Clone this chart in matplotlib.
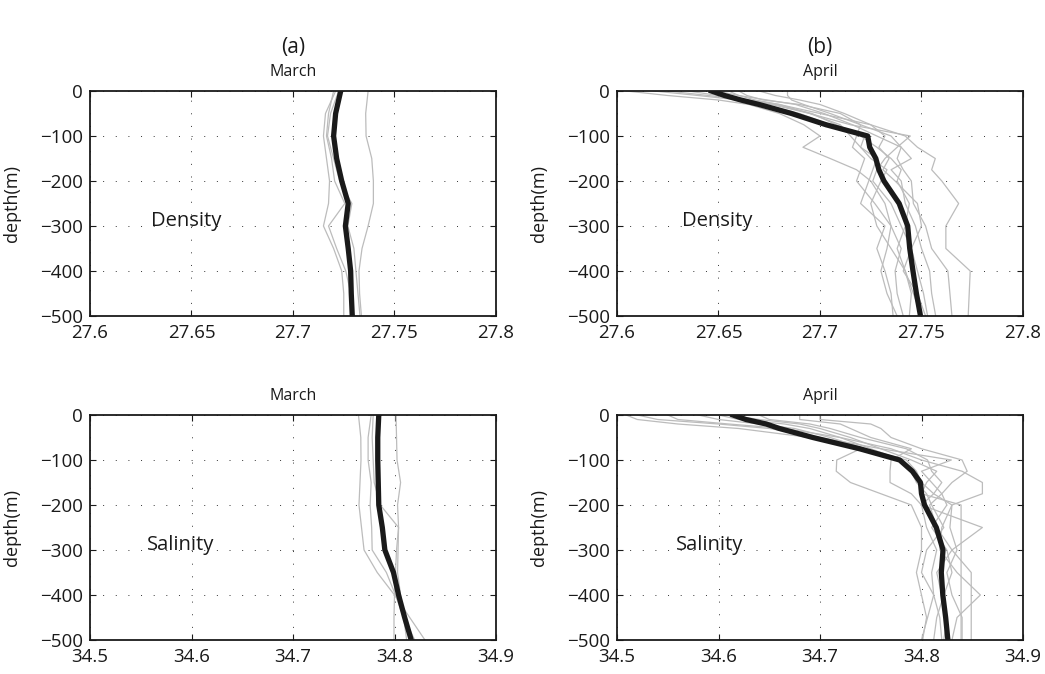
import numpy as np
import matplotlib
matplotlib.use("Agg")
import matplotlib.pyplot as plt

plt.rcParams['font.family'] = ['Open Sans', 'DejaVu Sans']

# depth levels
depth_mar = [0, -50, -100, -150, -200, -250, -300, -350, -400, -450, -500]
depth_apr = [0, -10, -20, -30, -50, -75, -100, -125, -150, -175, -200,
             -250, -300, -350, -400, -450, -500]

# March density (a, top)
dens_mar_mean = [27.7235, 27.7210, 27.7200, 27.7215, 27.7240, 27.7272,
                 27.7258, 27.7272, 27.7284, 27.7287, 27.7292]
dens_mar_casts = [
    [27.7370, 27.7358, 27.7360, 27.7388, 27.7396, 27.7396, 27.7370, 27.7340, 27.7325, 27.7328, 27.7337],
    [27.7210, 27.7160, 27.7150, 27.7165, 27.7180, 27.7175, 27.7150, 27.7200, 27.7240, 27.7250, 27.7250],
    [27.7200, 27.7175, 27.7165, 27.7190, 27.7205, 27.7255, 27.7175, 27.7215, 27.7260, 27.7285, 27.7300],
    [27.7225, 27.7185, 27.7170, 27.7200, 27.7230, 27.7290, 27.7270, 27.7300, 27.7310, 27.7320, 27.7330],
]

# March salinity (a, bottom)
sal_mar_mean = [34.7845, 34.7835, 34.7835, 34.7840, 34.7845, 34.7880,
                34.7905, 34.7990, 34.8040, 34.8100, 34.8165]
sal_mar_casts = [
    [34.7645, 34.7668, 34.7670, 34.7660, 34.7650, 34.7675, 34.7700, 34.7830, 34.8000, 34.8150, 34.8300],
    [34.8015, 34.8020, 34.8025, 34.8060, 34.8030, 34.8040, 34.8020, 34.8010, 34.8000, 34.7995, 34.7995],
    [34.7770, 34.7740, 34.7740, 34.7770, 34.7760, 34.7775, 34.7780, 34.7920, 34.8010, 34.8090, 34.8200],
    [34.7790, 34.7780, 34.7790, 34.7800, 34.7860, 34.8040, 34.8035, 34.8030, 34.8060, 34.8090, 34.8120],
]

# April density (b, top)
dens_apr_mean = [27.6465, 27.6530, 27.6610, 27.6700, 27.6860, 27.7030, 27.7235,
                 27.7245, 27.7275, 27.7290, 27.7315, 27.7390, 27.7432, 27.7442,
                 27.7458, 27.7475, 27.7495]
dens_apr_casts = [
    [27.6045, 27.625, 27.650, 27.665, 27.680, 27.692, 27.700, 27.6916, 27.705, 27.718, 27.725, 27.732, 27.735, 27.733, 27.730, 27.733, 27.738],
    [27.6180, 27.640, 27.660, 27.672, 27.690, 27.705, 27.720, 27.728, 27.735, 27.740, 27.738, 27.744, 27.742, 27.738, 27.742, 27.746, 27.750],
    [27.6470, 27.652, 27.662, 27.676, 27.695, 27.715, 27.7445, 27.738, 27.732, 27.728, 27.726, 27.735, 27.740, 27.745, 27.748, 27.751, 27.753],
    [27.6550, 27.660, 27.668, 27.680, 27.700, 27.725, 27.742, 27.748, 27.7568, 27.755, 27.760, 27.7683, 27.762, 27.762, 27.774, 27.7735, 27.773],
    [27.6600, 27.664, 27.672, 27.690, 27.710, 27.720, 27.718, 27.716, 27.722, 27.720, 27.718, 27.727, 27.735, 27.740, 27.737, 27.738, 27.741],
    [27.6840, 27.684, 27.686, 27.692, 27.705, 27.720, 27.735, 27.740, 27.738, 27.741, 27.745, 27.746, 27.752, 27.755, 27.763, 27.764, 27.765],
    [27.6350, 27.650, 27.665, 27.680, 27.695, 27.710, 27.715, 27.720, 27.725, 27.733, 27.730, 27.725, 27.728, 27.735, 27.742, 27.745, 27.744],
    [27.6700, 27.678, 27.690, 27.700, 27.712, 27.725, 27.732, 27.729, 27.734, 27.731, 27.737, 27.748, 27.750, 27.745, 27.741, 27.748, 27.752],
    [27.6490, 27.660, 27.674, 27.688, 27.702, 27.716, 27.728, 27.740, 27.745, 27.735, 27.740, 27.742, 27.747, 27.750, 27.754, 27.755, 27.757],
    [27.6250, 27.645, 27.663, 27.678, 27.696, 27.708, 27.722, 27.720, 27.728, 27.726, 27.724, 27.720, 27.732, 27.728, 27.732, 27.735, 27.736],
]

# April salinity (b, bottom)
sal_apr_mean = [34.6143, 34.627, 34.647, 34.660, 34.693, 34.739, 34.7785,
                34.791, 34.799, 34.800, 34.803, 34.8146, 34.8212, 34.8195,
                34.821, 34.8238, 34.826]
sal_apr_casts = [
    [34.509, 34.520, 34.560, 34.620, 34.690, 34.740, 34.7165, 34.716, 34.730, 34.760, 34.790, 34.800, 34.800, 34.795, 34.800, 34.805, 34.801],
    [34.520, 34.540, 34.600, 34.650, 34.700, 34.760, 34.8294, 34.800, 34.810, 34.820, 34.808, 34.815, 34.830, 34.815, 34.820, 34.825, 34.822],
    [34.550, 34.560, 34.610, 34.665, 34.720, 34.770, 34.800, 34.840, 34.860, 34.860, 34.830, 34.820, 34.818, 34.835, 34.858, 34.835, 34.830],
    [34.610, 34.640, 34.680, 34.700, 34.730, 34.760, 34.790, 34.815, 34.805, 34.800, 34.839, 34.839, 34.839, 34.839, 34.839, 34.839, 34.839],
    [34.640, 34.650, 34.690, 34.710, 34.740, 34.785, 34.806, 34.810, 34.820, 34.812, 34.800, 34.860, 34.830, 34.849, 34.849, 34.849, 34.849],
    [34.680, 34.680, 34.720, 34.730, 34.750, 34.790, 34.770, 34.769, 34.769, 34.790, 34.800, 34.805, 34.815, 34.810, 34.812, 34.818, 34.820],
    [34.700, 34.700, 34.750, 34.760, 34.770, 34.800, 34.840, 34.845, 34.830, 34.820, 34.825, 34.810, 34.825, 34.830, 34.822, 34.815, 34.812],
    [34.600, 34.620, 34.665, 34.690, 34.720, 34.750, 34.780, 34.790, 34.795, 34.805, 34.810, 34.822, 34.805, 34.800, 34.812, 34.806, 34.800],
    [34.580, 34.600, 34.640, 34.675, 34.710, 34.745, 34.785, 34.795, 34.800, 34.812, 34.830, 34.828, 34.835, 34.825, 34.830, 34.840, 34.840],
]

dens_ticks = [27.6, 27.65, 27.7, 27.75, 27.8]
dens_ticklabels = ['27.6', '27.65', '27.7', '27.75', '27.8']
sal_ticks = [34.5, 34.6, 34.7, 34.8, 34.9]
sal_ticklabels = ['34.5', '34.6', '34.7', '34.8', '34.9']
depth_ticks = [0, -100, -200, -300, -400, -500]
depth_ticklabels = ['0', '\u2212100', '\u2212200', '\u2212300', '\u2212400', '\u2212500']

fig = plt.figure(figsize=(10.45, 6.74), dpi=100)
W, H = 1045, 674


def make_ax(x0, x1, y0, y1):
    return fig.add_axes([x0 / W, 1 - y1 / H, (x1 - x0) / W, (y1 - y0) / H])


ax_a1 = make_ax(90, 496, 91, 316)
ax_b1 = make_ax(617, 1023, 91, 316)
ax_a2 = make_ax(90, 496, 415, 640)
ax_b2 = make_ax(617, 1023, 415, 640)

panels = [
    (ax_a1, depth_mar, dens_mar_casts, dens_mar_mean, dens_ticks, dens_ticklabels, 'March', 'Density', 27.63),
    (ax_b1, depth_apr, dens_apr_casts, dens_apr_mean, dens_ticks, dens_ticklabels, 'April', 'Density', 27.632),
    (ax_a2, depth_mar, sal_mar_casts, sal_mar_mean, sal_ticks, sal_ticklabels, 'March', 'Salinity', 34.5565),
    (ax_b2, depth_apr, sal_apr_casts, sal_apr_mean, sal_ticks, sal_ticklabels, 'April', 'Salinity', 34.558),
]

for ax, dep, casts, mean, xt, xtl, month, name, tx in panels:
    for c in casts:
        ax.plot(c, dep, color='#bcbcbc', linewidth=0.9, zorder=2)
    ax.plot(mean, dep, color='#1a1a1a', linewidth=3.8, zorder=3)
    ax.set_xlim(xt[0], xt[-1])
    ax.set_ylim(-500, 0)
    ax.set_xticks(xt)
    ax.set_xticklabels(xtl)
    ax.set_yticks(depth_ticks)
    ax.set_yticklabels(depth_ticklabels)
    ax.grid(True, linestyle=(0, (1, 12)), linewidth=0.7, color='#333333')
    ax.tick_params(direction='in', length=4, width=0.8, top=True, right=True,
                   labelsize=13.5, colors='#1a1a1a')
    ax.tick_params(axis='x', pad=6)
    ax.tick_params(axis='y', pad=5)
    for s in ax.spines.values():
        s.set_linewidth(1.3)
        s.set_color('#1a1a1a')
    ax.set_title(month, fontsize=11.5, pad=11, color='#1a1a1a')
    ax.set_ylabel('depth(m)', fontsize=13, color='#1a1a1a')
    ax.yaxis.set_label_coords(-0.17, 0.5)
    ax.text(tx, -288, name, fontsize=14.5, ha='left', va='center', color='#1a1a1a')

fig.text(293 / W, 1 - 48 / H, '(a)', fontsize=15, ha='center', va='center', color='#1a1a1a')
fig.text(820 / W, 1 - 48 / H, '(b)', fontsize=15, ha='center', va='center', color='#1a1a1a')

fig.savefig('out.png', dpi=100)
